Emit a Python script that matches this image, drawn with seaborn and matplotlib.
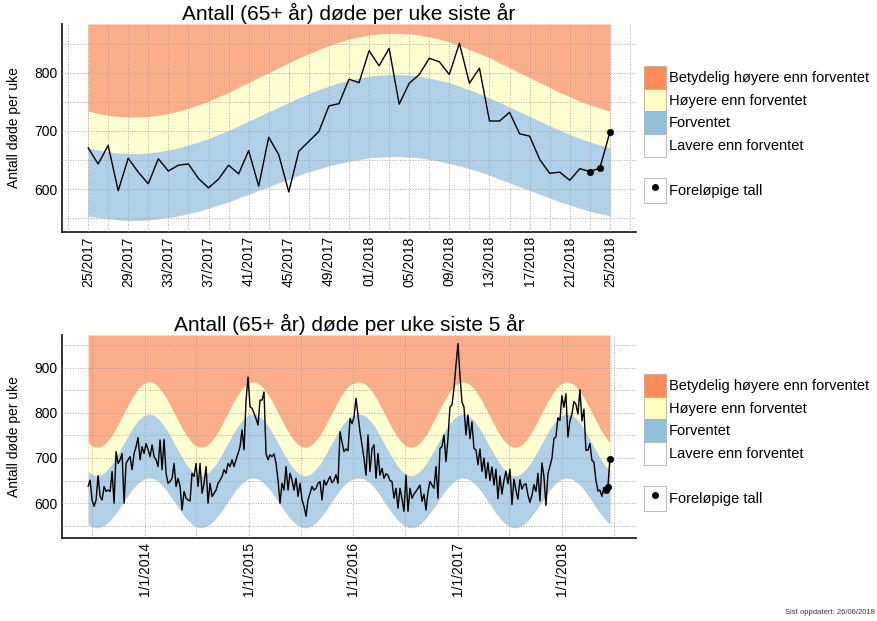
import pandas as pd
import matplotlib
matplotlib.use('Agg')
import matplotlib.pyplot as plt
import matplotlib.dates as mdates
from matplotlib.ticker import FuncFormatter
from matplotlib.patches import Patch
from matplotlib.lines import Line2D
import seaborn as sns

sns.set_theme(style='white')
plt.rcParams['font.family'] = ['Liberation Sans', 'DejaVu Sans']
plt.rcParams['text.color'] = 'black'
plt.rcParams['axes.labelcolor'] = 'black'

# weekly deaths 65+, week 25/2013 - week 24/2017
deaths_older = [
    637, 651, 607, 593, 607, 661, 615, 607, 637, 626,
    629, 626, 670, 600, 714, 688, 696, 710, 600, 688,
    696, 703, 674, 710, 725, 745, 696, 725, 710, 732,
    718, 703, 729, 703, 696, 681, 740, 674, 741, 666,
    644, 648, 655, 688, 637, 655, 637, 585, 626, 611,
    607, 605, 666, 659, 688, 637, 688, 622, 644, 681,
    600, 644, 615, 622, 629, 644, 651, 659, 674, 666,
    688, 681, 696, 681, 696, 710, 725, 762, 718, 828,
    879, 813, 810, 799, 787, 773, 828, 828, 846, 710,
    696, 707, 703, 709, 688, 651, 600, 644, 629, 681,
    629, 666, 651, 629, 655, 615, 644, 607, 593, 571,
    607, 622, 637, 629, 633, 644, 648, 607, 651, 640,
    650, 659, 645, 651, 663, 644, 758, 735, 714, 720,
    716, 787, 776, 790, 832, 795, 758, 729, 700, 662,
    751, 670, 720, 729, 655, 710, 662, 677, 655, 665,
    662, 650, 648, 611, 633, 589, 633, 610, 582, 662,
    582, 633, 611, 620, 626, 633, 640, 604, 620, 585,
    625, 648, 640, 633, 681, 611, 721, 725, 751, 692,
    743, 813, 817, 854, 905, 953, 883, 824, 813, 751,
    795, 743, 780, 721, 718, 685, 720, 670, 700, 655,
    690, 650, 680, 640, 675, 610, 660, 620, 650,
]

# weekly deaths 65+, week 25/2017 - week 25/2018 (last three preliminary)
deaths_last_year = [
    671, 643, 675, 597, 653, 629, 609, 652, 631, 641,
    643, 618, 602, 617, 641, 626, 666, 605, 689, 659,
    595, 665, 682, 699, 743, 747, 789, 783,
    838, 812, 842, 746, 782, 797, 825, 819, 797, 851,
    782, 808, 717, 717, 732, 695, 691, 651, 627, 629,
    615, 635, 630, 636, 698,
]
n_preliminary = 3
first_week = '2013-06-17'

# band edges per ISO week (week 1 .. week 53)
band_low = [
    654, 655, 656, 656, 655, 654, 651, 648, 644, 640,
    635, 630, 624, 617, 611, 604, 598, 591, 585, 578,
    573, 567, 562, 558, 554, 551, 549, 547, 546, 546,
    547, 549, 551, 554, 558, 562, 567, 573, 578, 585,
    591, 598, 604, 611, 617, 624, 630, 635, 640, 644,
    648, 651, 653,
]
band_expected = [
    794, 796, 797, 797, 796, 794, 791, 787, 783, 777,
    771, 764, 757, 749, 741, 733, 725, 717, 709, 701,
    694, 687, 681, 676, 671, 667, 664, 662, 661, 661,
    662, 664, 667, 671, 676, 681, 687, 694, 701, 709,
    717, 725, 733, 741, 749, 757, 764, 771, 777, 783,
    787, 791, 793,
]
band_higher = [
    865, 867, 868, 868, 867, 865, 862, 858, 853, 847,
    840, 833, 826, 817, 809, 800, 792, 783, 775, 766,
    759, 751, 745, 739, 734, 730, 727, 725, 724, 724,
    725, 727, 730, 734, 739, 745, 751, 759, 766, 775,
    783, 792, 800, 809, 817, 826, 833, 840, 847, 853,
    858, 862, 864,
]

legend_labels = ['Betydelig høyere enn forventet', 'Høyere enn forventet',
                 'Forventet', 'Lavere enn forventet']
legend_colors = ['#FC8D59', '#FFFFBF', '#91BFDB', '#FFFFFF']
band_colors = ['#FBAC89', '#FFFFD2', '#AFD0E6']

# build the table
deaths = deaths_older + deaths_last_year
dates = pd.date_range(first_week, periods=len(deaths), freq='7D')
iso = dates.isocalendar()
df = pd.DataFrame({'date': dates, 'deaths': deaths,
                   'week': iso['week'].values, 'year': iso['year'].values})
df['low'] = [band_low[w - 1] for w in df['week']]
df['expected'] = [band_expected[w - 1] for w in df['week']]
df['higher'] = [band_higher[w - 1] for w in df['week']]
df['prelim'] = False
df.loc[df.index[-n_preliminary:], 'prelim'] = True

df_year = df.tail(len(deaths_last_year)).reset_index(drop=True)
df_year['pos'] = range(len(df_year))


def draw_bands(ax, x, d, ytop):
    ax.fill_between(x, d['low'], ytop, color=band_colors[0], lw=0, zorder=1)
    ax.fill_between(x, d['low'], d['higher'], color=band_colors[1], lw=0, zorder=1)
    ax.fill_between(x, d['low'], d['expected'], color=band_colors[2], lw=0, zorder=1)


def style_axes(ax):
    sns.despine(ax=ax)
    for s in ['left', 'bottom']:
        ax.spines[s].set_color('#222222')
        ax.spines[s].set_linewidth(1.3)
    ax.set_axisbelow(False)
    ax.grid(which='both', linestyle=':', color='#a5a5a5', linewidth=0.7)
    ax.tick_params(which='both', length=0, labelsize=10, colors='black', pad=3)
    ax.tick_params(axis='x', labelrotation=90)
    ax.set_xlabel('')
    ax.set_ylabel('Antall døde per uke', fontsize=10, labelpad=10)


def add_legend(fig, top_px):
    handles = [Patch(facecolor=c, edgecolor='#b0b0b0', linewidth=0.6) for c in legend_colors]
    fig.legend(handles, legend_labels, loc='upper left',
               bbox_to_anchor=(644 / 878, 1 - top_px / 621), frameon=False,
               fontsize=10.5, handlelength=1.5, handleheight=2.01, labelspacing=0,
               handletextpad=0.2, borderpad=0, borderaxespad=0)
    dot = (Patch(facecolor='white', edgecolor='#b0b0b0', linewidth=0.6),
           Line2D([0], [0], marker='o', color='black', linestyle='', markersize=4))
    fig.legend([dot], ['Foreløpige tall'], loc='upper left',
               bbox_to_anchor=(644 / 878, 1 - (top_px + 112) / 621), frameon=False,
               fontsize=10.5, handlelength=1.5, handleheight=2.26,
               handletextpad=0.2, borderpad=0, borderaxespad=0)


fig = plt.figure(figsize=(8.78, 6.21), dpi=100)
ax1 = fig.add_axes([62 / 878, 1 - 232 / 621, 574 / 878, 208 / 621])
ax2 = fig.add_axes([62 / 878, 1 - 538 / 621, 574 / 878, 203 / 621])

# top: last year
ylim1 = (526, 884)
draw_bands(ax1, df_year['pos'], df_year, ylim1[1])
sns.lineplot(data=df_year, x='pos', y='deaths', color='black', linewidth=1, ax=ax1, zorder=3)
sns.scatterplot(data=df_year[df_year['prelim']], x='pos', y='deaths', color='black',
                s=22, edgecolor='black', ax=ax1, zorder=4)
ax1.set_xlim(-2.6, 54.6)
ax1.set_ylim(*ylim1)
tick_pos = list(range(0, len(df_year), 4))
ax1.set_xticks(tick_pos)
ax1.set_xticklabels([f"{df_year['week'][p]:02d}/{df_year['year'][p]}" for p in tick_pos])
ax1.set_xticks(range(-2, len(df_year) + 2, 2), minor=True)
ax1.set_yticks([600, 700, 800])
ax1.set_yticks([550, 650, 750, 850], minor=True)
style_axes(ax1)
ax1.set_title('Antall (65+ år) døde per uke siste år', fontsize=15, pad=3, color='black')

# bottom: last 5 years
ylim2 = (523, 972)
draw_bands(ax2, df['date'], df, ylim2[1])
sns.lineplot(data=df, x='date', y='deaths', color='black', linewidth=1, ax=ax2, zorder=3)
sns.scatterplot(data=df[df['prelim']], x='date', y='deaths', color='black',
                s=22, edgecolor='black', ax=ax2, zorder=4)
span = df['date'].iloc[-1] - df['date'].iloc[0]
ax2.set_xlim(df['date'].iloc[0] - span * 0.05, df['date'].iloc[-1] + span * 0.05)
ax2.set_ylim(*ylim2)
ax2.xaxis.set_major_locator(mdates.YearLocator())
ax2.xaxis.set_major_formatter(FuncFormatter(lambda v, p: f"1/1/{mdates.num2date(v).year}"))
ax2.xaxis.set_minor_locator(mdates.MonthLocator(bymonth=7))
ax2.set_yticks([600, 700, 800, 900])
ax2.set_yticks([550, 650, 750, 850, 950], minor=True)
style_axes(ax2)
ax2.set_title('Antall (65+ år) døde per uke siste 5 år', fontsize=15, pad=3, color='black')

add_legend(fig, 66)
add_legend(fig, 374)

fig.text(875 / 878, 1 - 612 / 621, 'Sist oppdatert: 26/06/2018', ha='right', va='center',
         fontsize=5.5, color='#333333')

fig.savefig('out.png', dpi=100)
